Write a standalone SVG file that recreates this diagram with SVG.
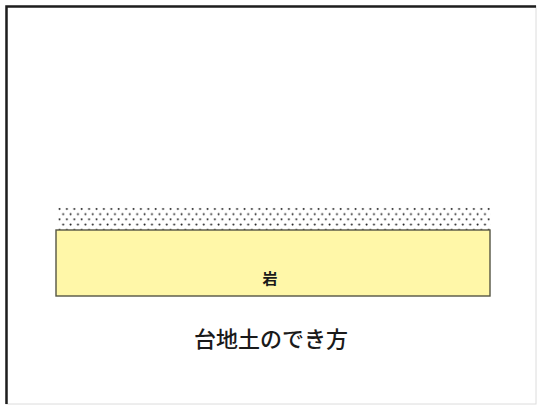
<svg xmlns="http://www.w3.org/2000/svg" width="539" height="407" viewBox="0 0 539 407">
  <style>
    .frame { fill: #ffffff; stroke: #dcdcdc; stroke-width: 1; }
    .frame-edge { fill: none; stroke: #1e1e1e; stroke-width: 2.5; }
    .rock { fill: #fff7a8; stroke: #555544; stroke-width: 1.4; }
    .label { font-family: "Noto Sans CJK JP", "Noto Sans", sans-serif; fill: #1a1a1a; text-anchor: middle; }
  </style>
  <defs>
    <pattern id="sand" x="58" y="207" width="7.4" height="10.4" patternUnits="userSpaceOnUse">
      <circle cx="1.5" cy="2" r="1" fill="#2a2a2a"/>
      <circle cx="5.2" cy="7.2" r="1" fill="#2a2a2a"/>
    </pattern>
  </defs>

  <rect width="539" height="407" fill="#ffffff"/>

  <!-- outer frame: dark top/left edges, light right/bottom edges -->
  <g id="frame">
    <rect class="frame" x="6" y="6" width="530" height="398"/>
    <path class="frame-edge" d="M6.5,404 V6.5 H536"/>
  </g>

  <!-- sand layer above the rock -->
  <g id="sand-layer">
    <rect x="57" y="207" width="434" height="23" fill="url(#sand)"/>
  </g>

  <!-- rock layer -->
  <g id="rock">
    <rect class="rock" x="56" y="230" width="434" height="66"/>
    <text class="label" x="270" y="284" font-size="15" font-weight="bold">岩</text>
  </g>

  <g id="title">
    <text class="label" x="271" y="347" font-size="22" font-weight="500">台地土のでき方</text>
  </g>
</svg>
